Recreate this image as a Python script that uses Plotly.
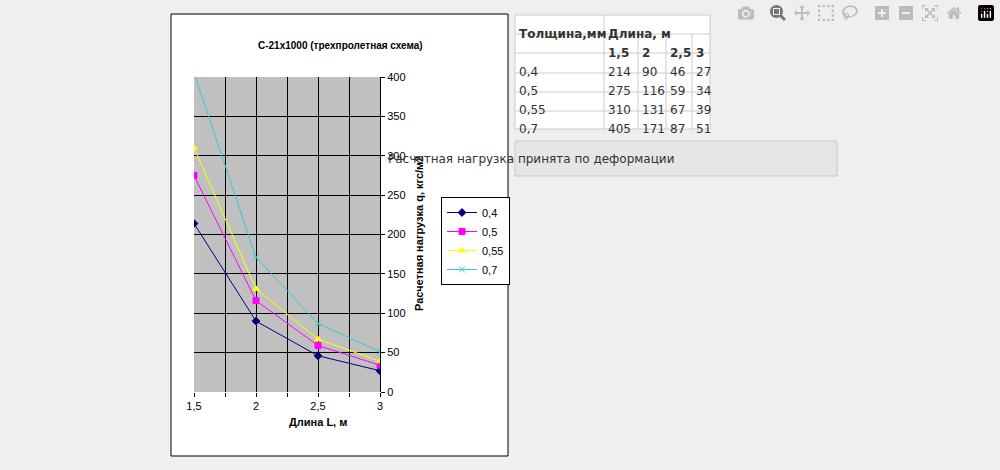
import plotly.graph_objects as go

# Data
lengths = [1.5, 2, 2.5, 3]
length_labels = ["1,5", "2", "2,5", "3"]
thickness = ["0,4", "0,5", "0,55", "0,7"]
loads = [
    [214, 90, 46, 27],
    [275, 116, 59, 34],
    [310, 131, 67, 39],
    [405, 171, 87, 51],
]
colors = ["#000080", "#ff00ff", "#ffff00", "#33cccc"]
symbols = ["diamond", "square", "triangle-up", "x-thin"]

W, H = 1000, 470


def px(x):
    return x / W


def py(y):
    return 1 - y / H


fig = go.Figure()
for name, vals, c, s in zip(thickness, loads, colors, symbols):
    fig.add_trace(go.Scatter(
        x=lengths, y=vals, name=name, mode="lines+markers",
        line=dict(color=c, width=1),
        marker=dict(symbol=s, size=6, color=c, line=dict(color=c, width=1)),
    ))

shapes = []
ann = []
# white chart box
shapes.append(dict(type="rect", xref="paper", yref="paper", x0=px(171), x1=px(508),
                   y0=py(456), y1=py(14), fillcolor="white", line=dict(color="black", width=1), layer="below"))
# gray plot area
shapes.append(dict(type="rect", xref="x domain", yref="y domain", x0=0, x1=1, y0=0, y1=1,
                   fillcolor="#c0c0c0", line=dict(width=0), layer="below"))

ann.append(dict(text="<b>C-21x1000 (трехпролетная схема)</b>", x=px(340), y=py(38), xref="paper", yref="paper",
                showarrow=False, font=dict(size=10, color="black")))
ann.append(dict(text="<b>Длина L, м</b>", x=px(287), y=py(430), xref="paper", yref="paper",
                showarrow=False, font=dict(size=11, color="black")))
ann.append(dict(text="<b>Расчетная нагрузка q, кгс/м2</b>", x=px(419), y=py(234), xref="paper", yref="paper",
                showarrow=False, textangle=-90, font=dict(size=11, color="black")))

# table
cols = [515, 604, 638, 666, 692, 710]
rows = [15, 34, 53, 73, 92, 111, 129]
tfont = dict(family="DejaVu Sans", size=12, color="#333333")
grid = "#cccccc"
shapes.append(dict(type="rect", xref="paper", yref="paper", x0=px(cols[0]), x1=px(cols[-1]),
                   y0=py(rows[-1]), y1=py(rows[0]), fillcolor="white", line=dict(color=grid, width=1)))
for r in rows[1:-1]:
    shapes.append(dict(type="line", xref="paper", yref="paper", x0=px(cols[0]), x1=px(cols[-1]),
                       y0=py(r), y1=py(r), line=dict(color=grid, width=1)))
shapes.append(dict(type="line", xref="paper", yref="paper", x0=px(cols[1]), x1=px(cols[1]),
                   y0=py(rows[-1]), y1=py(rows[0]), line=dict(color=grid, width=1)))
for c in cols[2:-1]:
    shapes.append(dict(type="line", xref="paper", yref="paper", x0=px(c), x1=px(c),
                       y0=py(rows[-1]), y1=py(rows[1]), line=dict(color=grid, width=1)))


def cell(text, ci, ri):
    ann.append(dict(text=text, x=px(cols[ci] + 2), y=py((rows[ri] + rows[ri + 1]) / 2), xref="paper", yref="paper",
                    xanchor="left", showarrow=False, font=tfont))


cell("<b>Толщина,мм</b>", 0, 0)
cell("<b>Длина, м</b>", 1, 0)
for j, lab in enumerate(length_labels):
    cell("<b>" + lab + "</b>", j + 1, 1)
for i, (name, vals) in enumerate(zip(thickness, loads)):
    cell(name, 0, i + 2)
    for j, v in enumerate(vals):
        cell(str(v), j + 1, i + 2)

# button
shapes.append(dict(type="rect", xref="paper", yref="paper", x0=px(515), x1=px(837), y0=py(176), y1=py(141),
                   fillcolor="#e6e6e6", line=dict(color="#c8c8c8", width=1)))
ann.append(dict(text="Расчетная нагрузка принята по деформации", x=px(676), y=py(159), xref="paper", yref="paper",
                showarrow=False, font=dict(family="DejaVu Sans", size=12, color="#333333")))

fig.update_layout(
    width=W, height=H, margin=dict(l=0, r=0, t=0, b=0, autoexpand=False),
    paper_bgcolor="#efefef", plot_bgcolor="rgba(0,0,0,0)",
    font=dict(family="Liberation Sans, Arial", size=11, color="black"),
    shapes=shapes, annotations=ann,
    legend=dict(x=px(441), y=py(197), xanchor="left", yanchor="top", bgcolor="white",
                bordercolor="black", borderwidth=1, font=dict(size=11), itemwidth=30, tracegroupgap=0),
    xaxis=dict(domain=[px(194), px(380)], range=[1.5, 3],
               tickvals=[1.5, 1.75, 2, 2.25, 2.5, 2.75, 3],
               ticktext=["1,5", "", "2", "", "2,5", "", "3"],
               showgrid=True, gridcolor="black", gridwidth=1, zeroline=False,
               ticks="outside", ticklen=4, tickcolor="black", showline=False),
    yaxis=dict(domain=[py(392), py(77)], range=[0, 400], dtick=50, side="right",
               showgrid=True, gridcolor="black", gridwidth=1, zeroline=False,
               ticks="outside", ticklen=4, tickcolor="black", showline=True, linecolor="black"),
)

fig.write_html("out.html", post_script="document.body.style.margin='0';document.body.style.background='#efefef';")
